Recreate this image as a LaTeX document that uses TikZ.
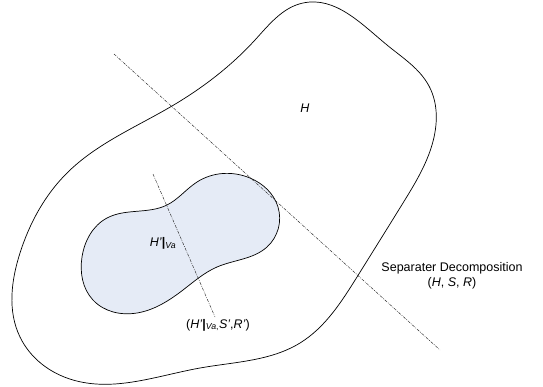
\documentclass[tikz,border=0pt]{standalone}
\usepackage{fontspec}
\setmainfont{Liberation Sans}
\usetikzlibrary{hobby}
\definecolor{blobfill}{RGB}{229,235,246}
\tikzset{
  outline/.style={draw=black, line width=0.7pt},
  cutline/.style={draw=black!85, line width=0.45pt, dash pattern=on 3pt off 1.2pt on 0.8pt off 1.2pt},
  lbl/.style={inner sep=0pt, font=\fontsize{12.5}{14.5}\selectfont, align=center}
}
\newcommand{\restr}{\textbf{|}}
\begin{document}
\begin{tikzpicture}[x=1pt,y=-1pt]
\useasboundingbox (0,0) rectangle (543,386);

% outer region H
\draw[outline, use Hobby shortcut, closed=true]
  (303,3) .. (387,45) .. (429,86) .. (432,145) .. (403,203) .. (357,277)
  .. (300,343) .. (200,368) .. (73,380) .. (20,337) .. (20,253)
  .. (67,173) .. (172,106) .. (255,40);

% inner shaded region H'|Va
\draw[outline, fill=blobfill, use Hobby shortcut, closed=true]
  (82,257) .. (107,218) .. (167,205) .. (197,182) .. (250,178)
  .. (278,207) .. (267,247) .. (217,267) .. (183,290) .. (137,313)
  .. (93,300);

% separator cut lines
\coordinate (bigA) at (114,54);
\coordinate (bigB) at (440,350);
\coordinate (smallA) at (153,174);
\coordinate (smallB) at (215,317);
\draw[cutline] (bigA) -- (bigB);
\draw[cutline] (smallA) -- (smallB);

% labels
\node[lbl] (h) at (305,108) {\textit{H}};
\node[lbl] (hva) at (163,243) {\textit{H'}\restr\textsubscript{\textit{Va}}};
\node[lbl] (sub) at (218,325) {(\textit{H'}\restr\textsubscript{\textit{Va},}\textit{S'},\textit{R'})};
\node[lbl] (sep) at (452,276) {Separater Decomposition\\(\textit{H}, \textit{S}, \textit{R})};
\end{tikzpicture}
\end{document}
